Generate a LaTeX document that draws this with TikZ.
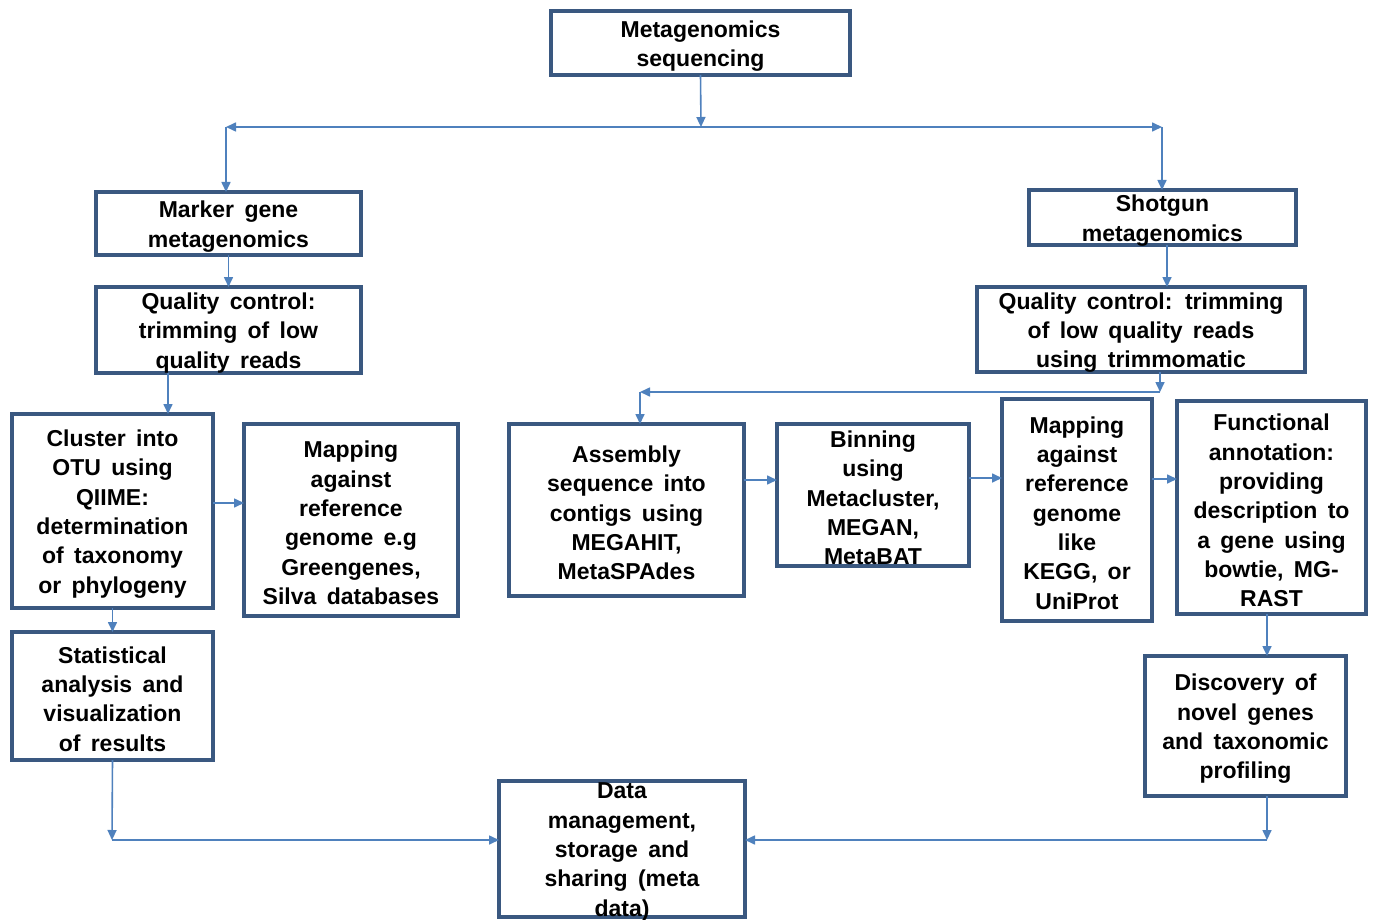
\documentclass[tikz,border=0pt]{standalone}
\usepackage{fontspec}
\setmainfont{Liberation Sans}
\usetikzlibrary{arrows.meta,calc}
\definecolor{boxc}{RGB}{58,88,128}
\definecolor{arrc}{RGB}{79,129,189}
\newcommand{\widesp}{\spaceskip=0.45em\relax}
\tikzset{
  box/.style={draw=boxc,line width=3.5pt,fill=white,inner sep=0pt,outer sep=0pt},
  txt/.style={font=\bfseries\fontsize{23}{29.3}\selectfont,align=center,inner sep=0pt,text=black,execute at begin node=\widesp},
  arr/.style={draw=arrc,line width=1.6pt,-{Triangle[length=10pt,width=9pt]}},
  ln/.style={draw=arrc,line width=1.6pt}
}
\newcommand{\mkbox}[6]{%
  \node[box,minimum width={#4-#2},minimum height={#5-#3}] (#1) at ({(#2+#4)/2},{(#3+#5)/2}) {};
  \node[txt] (#1-t) at ([yshift=-3pt]#1.center) {#6};
}
\begin{document}
\begin{tikzpicture}[x=1pt,y=-1pt]
\useasboundingbox (0,0) rectangle (1373,920);
\fill[white] (0,0) rectangle (1373,920);

\coordinate (j0) at (701,127);
\coordinate (jl) at (226,127);
\coordinate (jr) at (1162,127);
\coordinate (jm) at (1160,392);
\coordinate (ja) at (640,392);
\coordinate (bl) at (112,840);
\coordinate (br) at (1267,840);

\mkbox{top}{551}{11}{850}{75}{Metagenomics\\sequencing}
\mkbox{marker}{96}{192}{361}{255}{Marker gene\\metagenomics}
\mkbox{qcl}{96}{287}{361}{373}{Quality control:\\trimming of low\\quality reads}
\mkbox{cluster}{12}{414}{213}{608}{Cluster into\\OTU using\\QIIME:\\determination\\of taxonomy\\or phylogeny}
\mkbox{mapl}{244}{424}{458}{616}{Mapping\\against\\reference\\genome e.g\\Greengenes,\\Silva databases}
\mkbox{stat}{12}{632}{213}{760}{Statistical\\analysis and\\visualization\\of results}
\mkbox{shot}{1029}{190}{1296}{245}{Shotgun\\metagenomics}
\mkbox{qcr}{977}{287}{1305}{372}{Quality control: trimming\\of low quality reads\\using trimmomatic}
\mkbox{asm}{509}{424}{744}{596}{Assembly\\sequence into\\contigs using\\MEGAHIT,\\MetaSPAdes}
\mkbox{bin}{777}{424}{969}{566}{Binning\\using\\Metacluster,\\MEGAN,\\MetaBAT}
\mkbox{mapr}{1002}{399}{1152}{621}{Mapping\\against\\reference\\genome\\like\\KEGG, or\\UniProt}
\mkbox{func}{1177}{401}{1366}{614}{Functional\\annotation:\\providing\\description to\\a gene using\\bowtie, MG-\\RAST}
\mkbox{disc}{1145}{656}{1346}{796}{Discovery of\\novel genes\\and taxonomic\\profiling}
\mkbox{data}{499}{781}{745}{917}{Data\\management,\\storage and\\sharing (meta\\data)}

% top split
\draw[arr] (top.south) -- (j0);
\draw[arr] (j0) -- (jl);
\draw[arr] (j0) -- (jr);
\draw[arr] (jl) -- (jl |- marker.north);
\draw[arr] (jr) -- (jr |- shot.north);

% left branch
\draw[arr] (marker.south) -- (marker.south |- qcl.north);
\draw[arr] ([xshift=-60.5pt]qcl.south) -- ([xshift=-60.5pt]qcl.south |- cluster.north);
\draw[arr] ([yshift=8pt]cluster.east) -- ([yshift=8pt]cluster.east -| mapl.west);
\draw[arr] (cluster.south) -- (cluster.south |- stat.north);
\draw[arr] (stat.south) -- (bl);
\draw[arr] (bl) -- (bl -| data.west);

% right branch
\draw[arr] ([xshift=4.5pt]shot.south) -- ([xshift=4.5pt]shot.south |- qcr.north);
\draw[arr] ([xshift=19pt]qcr.south) -- (jm);
\draw[arr] (jm) -- (ja);
\draw[arr] (ja) -- (ja |- asm.north);
\draw[arr] ([yshift=30pt]asm.east) -- ([yshift=30pt]asm.east -| bin.west);
\draw[arr] ([yshift=17pt]bin.east) -- ([yshift=17pt]bin.east -| mapr.west);
\draw[arr] ([yshift=31pt]mapr.east) -- ([yshift=31pt]mapr.east -| func.west);
\draw[arr] ([xshift=-4.5pt]func.south) -- ([xshift=-4.5pt]func.south |- disc.north);
\draw[arr] ([xshift=21.5pt]disc.south) -- (br);
\draw[arr] (br) -- (br -| data.east);
\end{tikzpicture}
\end{document}
